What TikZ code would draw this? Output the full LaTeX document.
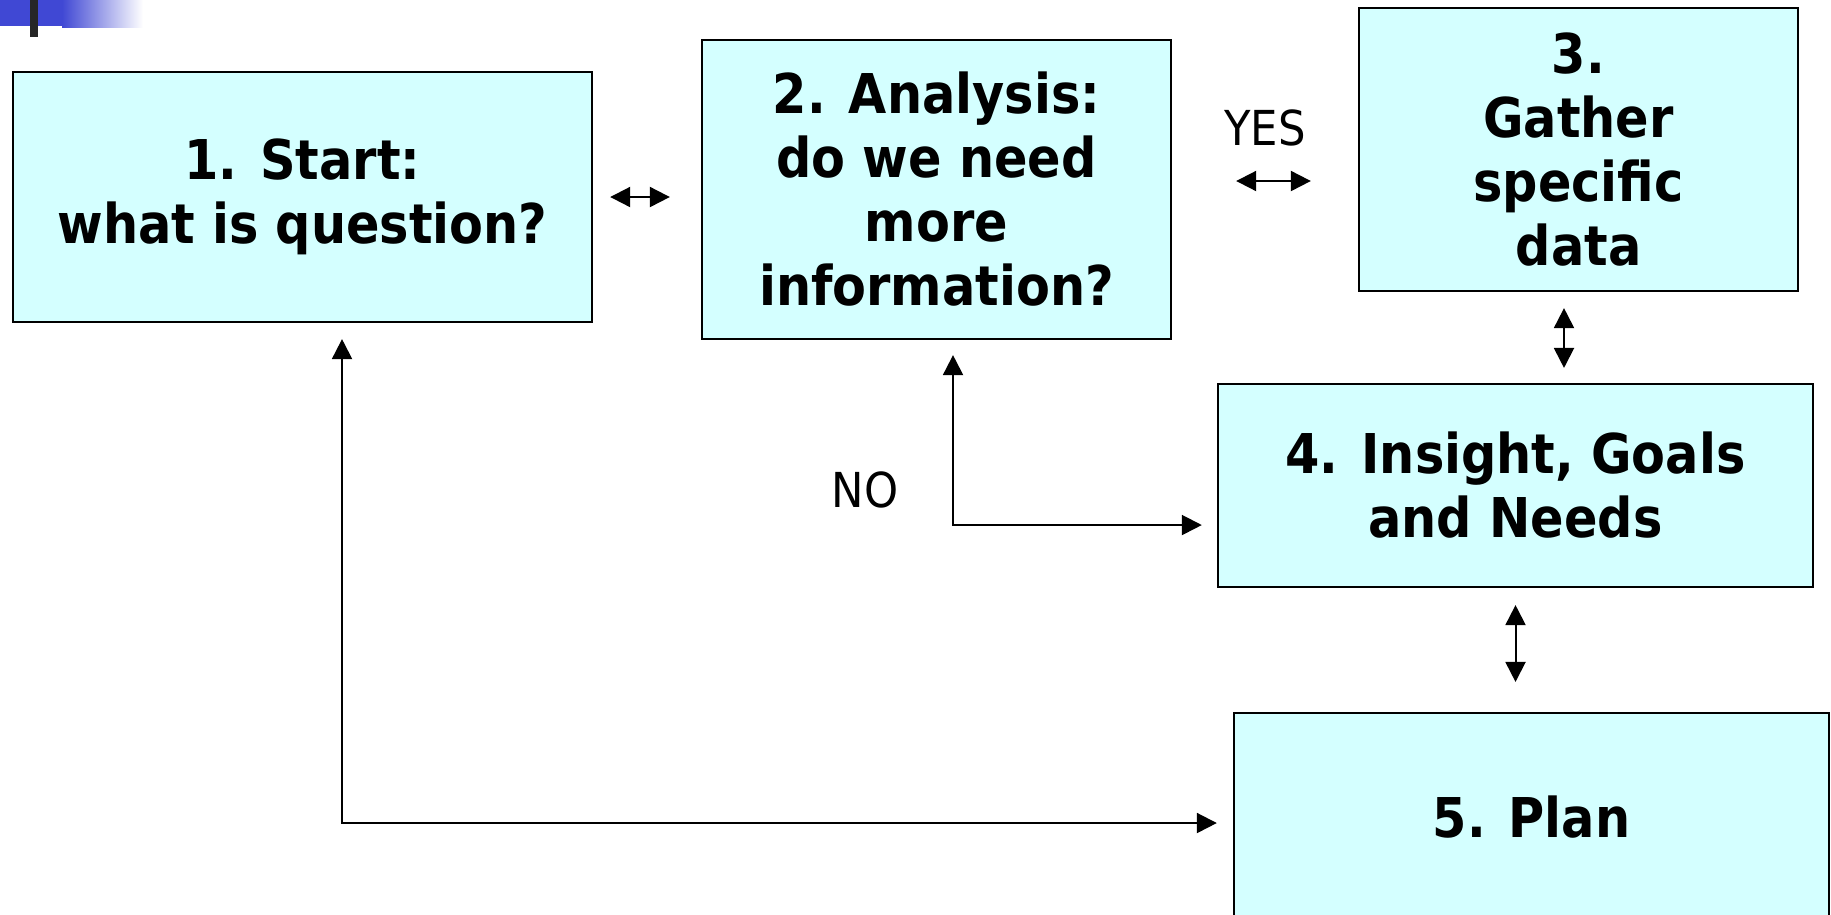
\documentclass[tikz,border=0pt]{standalone}
\usepackage{fontspec}
\setmainfont{DejaVu Sans}[FakeStretch=0.9]
\usetikzlibrary{arrows.meta,positioning}
\definecolor{boxcyan}{RGB}{212,255,255}
\definecolor{decoblue}{RGB}{64,72,212}

\begin{document}
\begin{tikzpicture}[x=0.01cm, y=-0.01cm, box/.style={rectangle, draw=black, line width=0.02cm, fill=boxcyan, align=center, inner sep=0pt, font=\bfseries\fontsize{15.6}{18.2}\selectfont}, lbl/.style={font=\fontsize{13.7}{16}\selectfont}, dbl/.style={{Triangle[length=0.2cm,width=0.2cm]}-{Triangle[length=0.2cm,width=0.2cm]}, line width=0.02cm}]
\useasboundingbox (0,0) rectangle (1831,914);
\fill[decoblue] (0,0) rectangle (62,26);
\shade[left color=decoblue, right color=white] (62,0) rectangle (143,27);
\fill[black!85] (30,0) rectangle (38,37);
\node[box, minimum width=5.79cm, minimum height=2.5cm] (start) at (302.5,197) {1. Start:\\ what is question?};
\node[box, minimum width=4.69cm, minimum height=2.99cm] (analysis) at (936.5,189.5) {2. Analysis:\\ do we need\\ more\\ information?};
\node[box, minimum width=4.39cm, minimum height=2.83cm] (gather) at (1578.5,149.5) {3.\\ Gather\\ specific\\ data};
\node[box, minimum width=5.95cm, minimum height=2.03cm] (insight) at (1515.5,485.5) {4. Insight, Goals\\ and Needs};
\node[box, minimum width=5.95cm, minimum height=2.08cm] (plan) at (1531.5,817) {5. Plan};
\node[lbl] (yes) at (1265,128) {YES};
\node[lbl] (no) at (865,490) {NO};
\draw[dbl, shorten <=0.17cm, shorten >=0.31cm] (start.east) -- (start.east -| analysis.west);
\draw[dbl, shorten <=0.64cm, shorten >=0.47cm] ([yshift=0.085cm]analysis.east) -- ([yshift=0.085cm]analysis.east -| gather.west);
\draw[dbl, shorten <=0.16cm, shorten >=0.15cm] ([xshift=-0.145cm]gather.south) -- ([xshift=-0.145cm]gather.south |- insight.north);
\draw[dbl, shorten <=0.17cm, shorten >=0.30cm] (insight.south) -- (insight.south |- plan.north);
\draw[dbl, shorten <=0.15cm, shorten >=0.15cm] ([xshift=0.165cm]analysis.south) |- ([yshift=-0.395cm]insight.west);
\draw[dbl, shorten <=0.16cm, shorten >=0.16cm] ([xshift=0.395cm]start.south) |- ([yshift=-0.06cm]plan.west);
\end{tikzpicture}
\end{document}
